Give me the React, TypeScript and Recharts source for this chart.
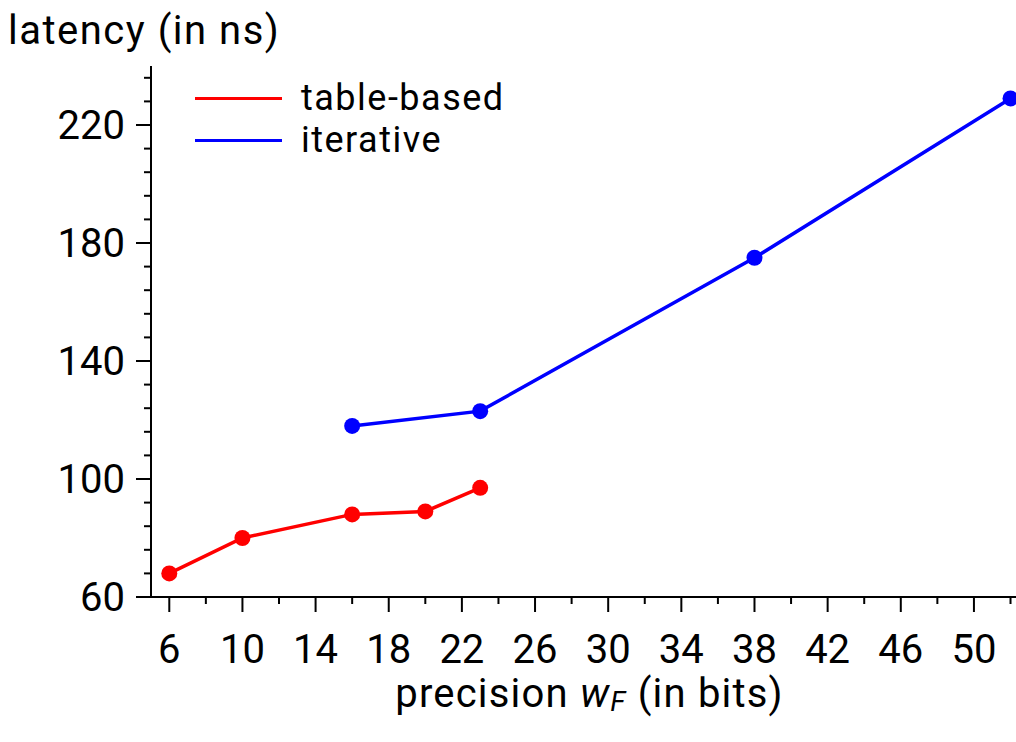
import React from "react";
import { LineChart, Line, XAxis, YAxis } from "recharts";

// precision wF (bits) vs latency (ns)
const tableX = [6, 10, 16, 20, 23];
const tableLatency = [68, 80, 88, 89, 97];
const iterX = [16, 23, 38, 52];
const iterLatency = [118, 123, 175, 229];

const xMajorTicks = [6, 10, 14, 18, 22, 26, 30, 34, 38, 42, 46, 50];
const xMinorTicks = [8, 12, 16, 20, 24, 28, 32, 36, 40, 44, 48, 52];
const yMajorTicks = [60, 100, 140, 180, 220];
const yMinorTicks = [68, 76, 84, 92, 108, 116, 124, 132, 148, 156, 164, 172, 188, 196, 204, 212, 228, 236];

const tableData = tableX.map((x, i) => ({ x, y: tableLatency[i] }));
const iterData = iterX.map((x, i) => ({ x, y: iterLatency[i] }));

const FONT = "Roboto, 'DejaVu Sans', sans-serif";
const FS = 40;

const XTick = (props: any) => {
  const { x, y, payload } = props;
  const major = xMajorTicks.includes(payload.value);
  return (
    <g>
      <line x1={x} y1={y} x2={x} y2={y + (major ? 15 : 7)} stroke="#000" strokeWidth={2} />
      {major && (
        <text x={x} y={y + 52} textAnchor="middle" dominantBaseline="central" fontFamily={FONT} fontSize={FS} fill="#000">
          {payload.value}
        </text>
      )}
    </g>
  );
};

const YTick = (props: any) => {
  const { x, y, payload } = props;
  const major = yMajorTicks.includes(payload.value);
  return (
    <g>
      <line x1={x} y1={y} x2={x - (major ? 15 : 7)} y2={y} stroke="#000" strokeWidth={2} />
      {major && (
        <text x={x - 26} y={y} textAnchor="end" dominantBaseline="central" fontFamily={FONT} fontSize={FS} fill="#000">
          {payload.value}
        </text>
      )}
    </g>
  );
};

const XLabel = (props: any) => {
  const { viewBox } = props;
  const cx = viewBox.x + viewBox.width / 2 + 6;
  return (
    <text x={cx} y={viewBox.y + 96} textAnchor="middle" dominantBaseline="central" fontFamily={FONT} fontSize={FS} fill="#000" letterSpacing={1.2}>
      precision <tspan fontStyle="italic">w</tspan>
      <tspan fontStyle="italic" fontSize={28} dy={8}>F</tspan>
      <tspan dy={-8}> (in bits)</tspan>
    </text>
  );
};

const YLabel = () => (
  <text x={8} y={30} textAnchor="start" dominantBaseline="central" fontFamily={FONT} fontSize={FS} fill="#000" letterSpacing={1.5}>
    latency (in ns)
  </text>
);

const legendItems = [
  { name: "table-based", color: "#ff0000" },
  { name: "iterative", color: "#0000ff" },
];

export default function App() {
  return (
    <div style={{ position: "absolute", left: 0, top: 0, width: 1016, height: 742, background: "#fff" }}>
      <LineChart width={1016} height={742} margin={{ top: 66, right: 0, bottom: 0, left: 0 }}>
        <XAxis
          dataKey="x"
          type="number"
          domain={[5, 52.3]}
          allowDataOverflow
          ticks={[...xMajorTicks, ...xMinorTicks].sort((a, b) => a - b)}
          interval={0}
          tickSize={0}
          tickMargin={0}
          tick={<XTick />}
          height={145}
          axisLine={{ stroke: "#000", strokeWidth: 2 }}
          label={<XLabel />}
        />
        <YAxis
          type="number"
          domain={[60, 240]}
          allowDataOverflow
          ticks={[...yMajorTicks, ...yMinorTicks].sort((a, b) => a - b)}
          interval={0}
          tickSize={0}
          tickMargin={0}
          tick={<YTick />}
          width={151}
          axisLine={{ stroke: "#000", strokeWidth: 2 }}
          label={<YLabel />}
        />
        <Line
          data={tableData}
          dataKey="y"
          name="table-based"
          stroke="#ff0000"
          strokeWidth={3.5}
          dot={{ r: 8, fill: "#ff0000", stroke: "#ff0000", strokeWidth: 0 }}
          isAnimationActive={false}
        />
        <Line
          data={iterData}
          dataKey="y"
          name="iterative"
          stroke="#0000ff"
          strokeWidth={3.5}
          dot={{ r: 8, fill: "#0000ff", stroke: "#0000ff", strokeWidth: 0 }}
          isAnimationActive={false}
        />
      </LineChart>
      <div style={{ position: "absolute", left: 195, top: 77, fontFamily: FONT, fontSize: 36, letterSpacing: 1.5 }}>
        {legendItems.map((it) => (
          <div key={it.name} style={{ display: "flex", alignItems: "center", height: 42 }}>
            <span style={{ display: "inline-block", width: 87, height: 3, background: it.color, marginRight: 19 }} />
            <span style={{ lineHeight: "38px" }}>{it.name}</span>
          </div>
        ))}
      </div>
    </div>
  );
}
